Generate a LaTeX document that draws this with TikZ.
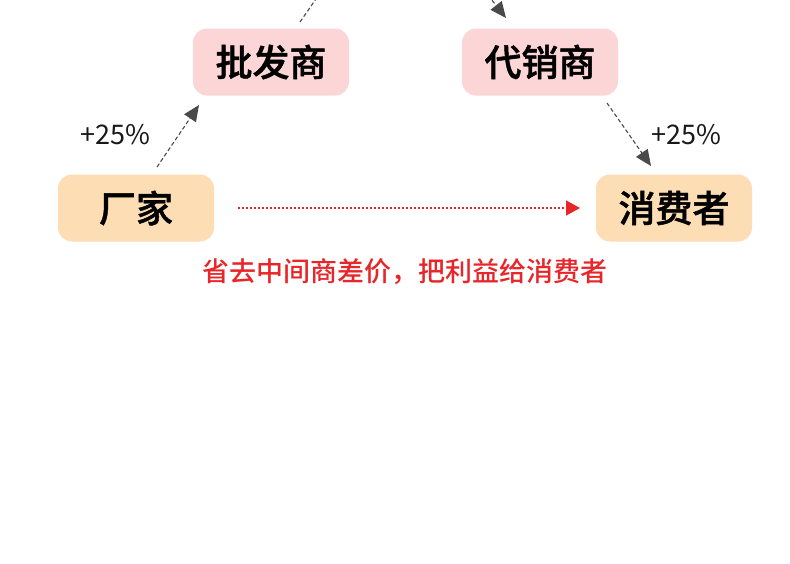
\documentclass[tikz,border=0pt]{standalone}
\usepackage{fontspec}
\setmainfont{Noto Sans CJK SC}
\newfontfamily\cjk{Noto Sans CJK SC}
\newfontfamily\cjkmed{Noto Sans CJK SC Medium}
\newfontfamily\cjkbox[FakeBold=1.2]{Noto Sans CJK SC Medium}
\usetikzlibrary{arrows.meta}
\definecolor{pinkbox}{HTML}{FCD6D6}
\definecolor{peachbox}{HTML}{FDDDB4}
\definecolor{redtxt}{HTML}{E8262A}
\definecolor{grayarrow}{HTML}{4A4A4A}
\begin{document}
\begin{tikzpicture}[x=1pt,y=-1pt,
  box/.style={rounded corners=14pt, minimum width=156pt, minimum height=67pt, inner sep=0pt,
     font=\cjkbox\fontsize{37}{40}\selectfont, text=black},
  pinkstyle/.style={box, fill=pinkbox},
  peachstyle/.style={box, fill=peachbox},
  pct/.style={font=\cjk\fontsize{27}{30}\selectfont, text=black!90},
  grayarr/.style={draw=grayarrow, line width=1.1pt, dash pattern=on 4pt off 2.5pt, -{Triangle[length=16pt,width=14pt]}},
  redarr/.style={draw=redtxt, line width=1.5pt, dash pattern=on 2pt off 2pt, -{Triangle[length=14pt,width=15pt]}}
]
\useasboundingbox (0,0) rectangle (790,563);
\fill[white] (0,0) rectangle (790,563);
\node[pinkstyle] (pf) at (271,62) {批发商};
\node[pinkstyle] (dx) at (540,62) {代销商};
\node[peachstyle] (cj) at (136,208) {厂家};
\node[peachstyle] (xf) at (674,208) {消费者};
\coordinate (pftop) at (318,-4);
\coordinate (dxtop) at (484,-10);
\coordinate (a1s) at (157,167);
\coordinate (a1e) at (199,105);
\coordinate (a2s) at (607,103);
\coordinate (a2e) at (651,166);
\coordinate (a3s) at (300,22);
\coordinate (a4e) at (506,18);
\coordinate (rs) at (238,208);
\coordinate (re) at (580,208);
\draw[grayarr] (a1s) -- (a1e);
\draw[grayarr] (a2s) -- (a2e);
\draw[grayarrow, line width=1.1pt, dash pattern=on 4pt off 2.5pt] (a3s) -- (pftop);
\draw[grayarr] (dxtop) -- (a4e);
\draw[redarr] (rs) -- (re);
\node[pct] (p1) at (115,135) {+25\%};
\node[pct] (p2) at (686,135) {+25\%};
\node[font=\cjkmed\fontsize{27}{30}\selectfont, text=redtxt] (note) at (405,272) {省去中间商差价，把利益给消费者};
\end{tikzpicture}
\end{document}
